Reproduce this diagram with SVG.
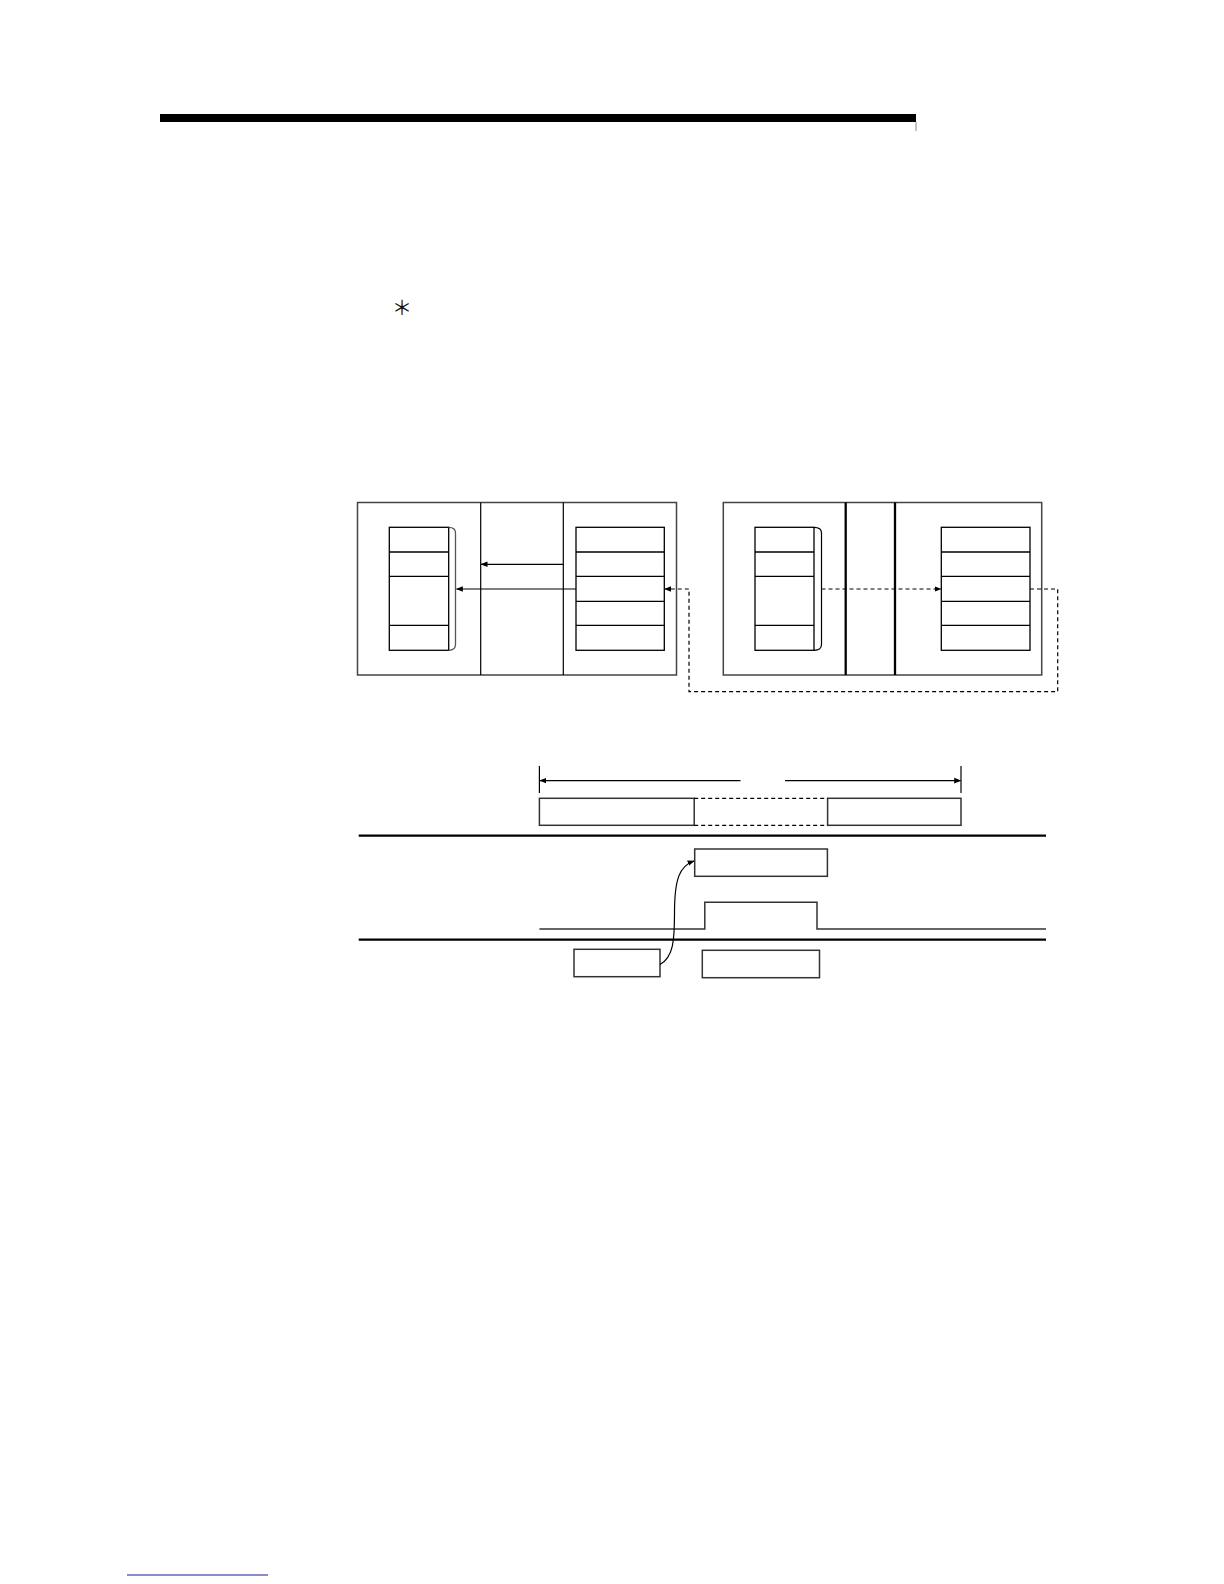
<svg xmlns="http://www.w3.org/2000/svg" width="1224" height="1584" viewBox="0 0 1224 1584">
<defs>
<style>
.frame{fill:none;stroke:#444;stroke-width:1.5}
.cell{fill:none;stroke:#000;stroke-width:1.3}
.ln{fill:none;stroke:#000;stroke-width:1.2}
.thick{fill:none;stroke:#000;stroke-width:2.3}
.dash{fill:none;stroke:#000;stroke-width:1.2;stroke-dasharray:4,3}
.brk{fill:none;stroke:#555;stroke-width:1.3}
.box{fill:none;stroke:#333;stroke-width:1.5}
</style>
<marker id="ah" viewBox="0 0 10 10" refX="9" refY="5" markerWidth="7" markerHeight="7" orient="auto-start-reverse" markerUnits="userSpaceOnUse">
<path d="M0,1 L10,5 L0,9 z" fill="#000"/>
</marker>
</defs>
<rect x="160" y="114" width="756" height="8" fill="#000"/>
<line x1="916" y1="122" x2="916" y2="131" stroke="#888" stroke-width="1"/>
<text x="402" y="315" font-family="Noto Sans CJK JP, DejaVu Sans, sans-serif" font-size="20" text-anchor="middle" fill="#111">＊</text>

<g id="station1">
<rect class="frame" x="357.5" y="502.5" width="319" height="172.5"/>
<line class="ln" x1="480.7" y1="502.5" x2="480.7" y2="675"/>
<line class="ln" x1="563.3" y1="502.5" x2="563.3" y2="675"/>
<g id="s1-left-stack">
<rect class="cell" x="389.3" y="527.3" width="59.4" height="123"/>
<line class="cell" x1="389.3" y1="552" x2="448.7" y2="552"/>
<line class="cell" x1="389.3" y1="576.3" x2="448.7" y2="576.3"/>
<line class="cell" x1="389.3" y1="625.3" x2="448.7" y2="625.3"/>
<path class="brk" d="M448.7,527.3 Q455.5,527.3 455.5,533 L455.5,644.5 Q455.5,650.3 448.7,650.3"/>
</g>
<g id="s1-right-stack">
<rect class="cell" x="576" y="527.3" width="88.3" height="123"/>
<line class="cell" x1="576" y1="552" x2="664.3" y2="552"/>
<line class="cell" x1="576" y1="576.3" x2="664.3" y2="576.3"/>
<line class="cell" x1="576" y1="601.3" x2="664.3" y2="601.3"/>
<line class="cell" x1="576" y1="625.3" x2="664.3" y2="625.3"/>
</g>
</g>

<g id="station2">
<rect class="frame" x="723.3" y="502.5" width="318.4" height="172.5"/>
<line class="thick" x1="845.7" y1="502.5" x2="845.7" y2="675"/>
<line class="thick" x1="895" y1="502.5" x2="895" y2="675"/>
<g id="s2-left-stack">
<rect class="cell" x="755" y="527.3" width="59" height="123"/>
<line class="cell" x1="755" y1="552" x2="814" y2="552"/>
<line class="cell" x1="755" y1="576.3" x2="814" y2="576.3"/>
<line class="cell" x1="755" y1="625.3" x2="814" y2="625.3"/>
<path class="ln" d="M814,527.3 Q821.5,527.3 821.5,533 L821.5,644.5 Q821.5,650.3 814,650.3"/>
</g>
<g id="s2-right-stack">
<rect class="cell" x="941.3" y="527.3" width="88.7" height="123"/>
<line class="cell" x1="941.3" y1="552" x2="1030" y2="552"/>
<line class="cell" x1="941.3" y1="576.3" x2="1030" y2="576.3"/>
<line class="cell" x1="941.3" y1="601.3" x2="1030" y2="601.3"/>
<line class="cell" x1="941.3" y1="625.3" x2="1030" y2="625.3"/>
</g>
</g>

<g id="timing-boxes">
<rect id="t-box1" class="box" x="539.4" y="798.3" width="154.8" height="27"/>
<rect id="t-box2" class="box" x="827.6" y="798.3" width="133.4" height="27"/>
<rect id="t-box3" class="box" x="694.7" y="849" width="132.7" height="27.3"/>
<rect id="t-box4" class="box" x="574" y="949.3" width="86" height="27.4"/>
<rect id="t-box5" class="box" x="702.3" y="950.3" width="117.2" height="27.4"/>
</g>

<g id="connectors">
<line class="ln" x1="563.3" y1="564.3" x2="481.2" y2="564.3" marker-end="url(#ah)"/>
<line class="ln" x1="576" y1="589" x2="456.5" y2="589" marker-end="url(#ah)"/>
<line class="dash" x1="821.5" y1="589" x2="940.8" y2="589" marker-end="url(#ah)"/>
<path class="dash" d="M1030,589 L1057.7,589 L1057.7,691.7 L689,691.7 L689,589 L665,589" marker-end="url(#ah)"/>

<line class="ln" x1="539.4" y1="766" x2="539.4" y2="793"/>
<line class="ln" x1="961" y1="766" x2="961" y2="793"/>
<line class="ln" x1="740.5" y1="780.6" x2="540" y2="780.6" marker-end="url(#ah)"/>
<line class="ln" x1="785" y1="780.6" x2="960.5" y2="780.6" marker-end="url(#ah)"/>
<line class="dash" x1="694.2" y1="798.3" x2="827.6" y2="798.3"/>
<line class="dash" x1="694.2" y1="825.3" x2="827.6" y2="825.3"/>

<line class="thick" x1="358.7" y1="835.7" x2="1046" y2="835.7"/>
<line class="thick" x1="358.7" y1="939.7" x2="1046" y2="939.7"/>
<path class="box" d="M539.4,929 L704.8,929 L704.8,902.3 L817,902.3 L817,929 L1046,929"/>
<path class="ln" d="M660,964.5 C673.5,957 674.5,940 674.5,913 C674.5,879 679.5,866 694,861" marker-end="url(#ah)"/>
</g>

<line x1="127" y1="1575" x2="268" y2="1575" stroke="#1a1a8c" stroke-width="1.2"/>
</svg>
